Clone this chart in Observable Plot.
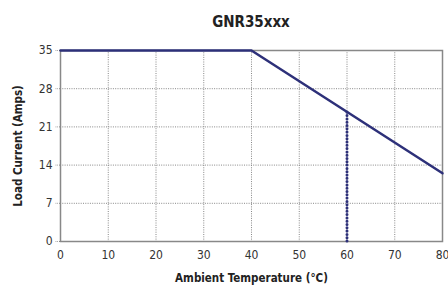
<!DOCTYPE html>
<html><head><meta charset="utf-8">
<script src="https://cdn.jsdelivr.net/npm/d3@7"></script>
<script src="https://cdn.jsdelivr.net/npm/@observablehq/plot@0.6"></script>
<style>
body{margin:0;background:#fff;font-family:"Liberation Sans Narrow","DejaVu Sans Condensed",sans-serif;font-stretch:condensed;}
#wrap{width:448px;height:287px;overflow:hidden;}
#title{height:36px;line-height:45px;margin-left:60px;width:382px;text-align:center;font-weight:bold;font-size:15px;color:#222;}
svg{display:block;}
</style></head>
<body><div id="wrap"><div id="title">GNR35xxx</div><div id="chart"></div></div>
<script>
const temps = [0, 40, 80];
const current = [35, 35, 12.5];
const markerTemp = [60];
const markerCurrent = [23.75];
const xTicks = [0, 10, 20, 30, 40, 50, 60, 70, 80];
const yTicks = [0, 7, 14, 21, 28, 35];

const curve = temps.map((t, i) => ({t, a: current[i]}));
const marker = markerTemp.map((t, i) => ({t, a: markerCurrent[i]}));
const navy = "#2d3079";

const chart = Plot.plot({
  width: 448, height: 251,
  marginLeft: 60, marginRight: 6, marginTop: 14, marginBottom: 46,
  style: {fontFamily: '"Liberation Sans Narrow","DejaVu Sans Condensed",sans-serif', fontSize: "12px", color: "#333", background: "#fff"},
  x: {domain: [0, 80], ticks: xTicks},
  y: {domain: [0, 35], ticks: yTicks},
  marks: [
    Plot.gridX(xTicks, {stroke: "#888", strokeOpacity: 1, strokeWidth: 1, strokeDasharray: "1,1.3"}),
    Plot.gridY(yTicks.filter(d => d > 0 && d < 35), {stroke: "#888", strokeOpacity: 1, strokeWidth: 1, strokeDasharray: "1,1.3"}),
    Plot.axisY({ticks: yTicks, tickSize: 5, tickPadding: 3, stroke: "#888", strokeDasharray: "1,1.3", fontSize: 12, label: null}),
    Plot.axisX({ticks: xTicks, tickSize: 0, tickPadding: 9, fontSize: 12, label: null}),
    Plot.frame({stroke: "#888", strokeWidth: 1.5}),
    Plot.ruleX(marker, {x: "t", y1: 0, y2: "a", stroke: navy, strokeWidth: 3, strokeDasharray: "0,3.3", strokeLinecap: "round"}),
    Plot.line(curve, {x: "t", y: "a", stroke: navy, strokeWidth: 2.5}),
    Plot.text(["Ambient Temperature (°C)"], {frameAnchor: "bottom", dy: 40, fontWeight: "bold", fontSize: 11.5, fill: "#222"}),
    Plot.text(["Load Current (Amps)"], {frameAnchor: "left", textAnchor: "middle", dx: -42, rotate: -90, fontWeight: "bold", fontSize: 11.5, fill: "#222"})
  ]
});
document.getElementById("chart").appendChild(chart);
</script>
</body></html>
